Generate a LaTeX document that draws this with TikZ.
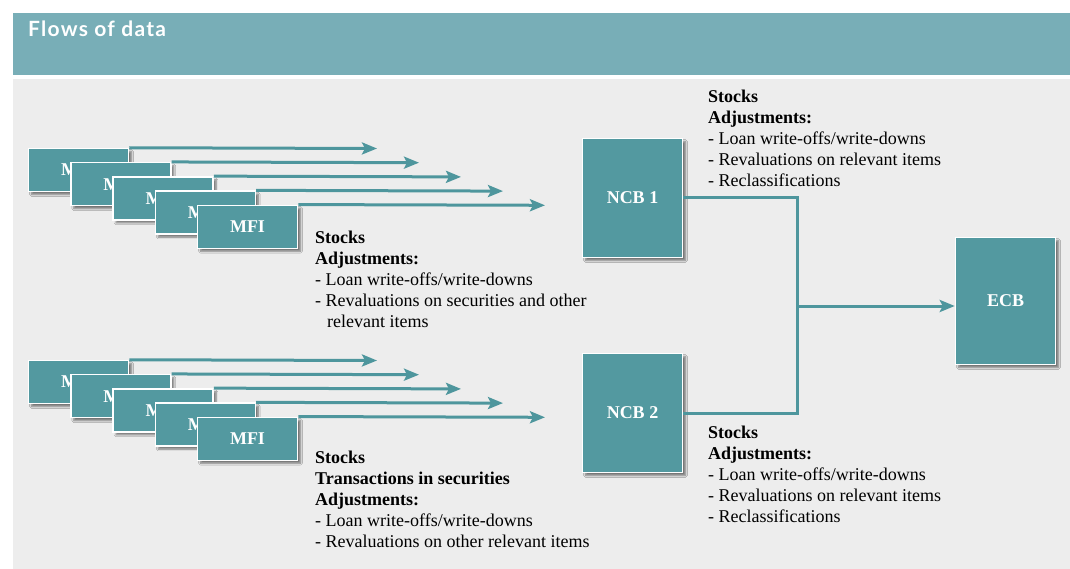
\documentclass[tikz,border=0pt]{standalone}
\usepackage{fontspec}
\setmainfont{Liberation Serif}
\newfontfamily\headfont[LetterSpace=6]{Lato}
\usepackage{xcolor}
\usetikzlibrary{arrows.meta,shadows.blur}
\definecolor{bandteal}{HTML}{78AEB7}
\definecolor{boxteal}{HTML}{5399A0}
\definecolor{lineteal}{HTML}{4E969D}
\definecolor{panelgrey}{HTML}{EDEDED}
\tikzstyle{flow} = [line width=3pt,draw=lineteal,-{Stealth[length=15pt,width=12pt,inset=3pt]}]
\tikzstyle{link} = [line width=3pt,draw=lineteal]

\begin{document}
\begin{tikzpicture}[x=1pt, y=-1pt,
    tealbox/.style={draw=white, line width=1.5pt, fill=boxteal, inner sep=0pt,
                    text=white, font=\bfseries\fontsize{18}{18}\selectfont,
                    blur shadow={shadow blur steps=6, shadow xshift=3pt, shadow yshift=-3pt, shadow opacity=50}},
    mfibox/.style={tealbox, minimum width=100pt, minimum height=43pt},
    bankbox/.style={tealbox, minimum width=100pt, minimum height=119pt},
    notes/.style={anchor=north west, inner sep=0pt, align=left, font=\fontsize{18}{21}\selectfont}]

    % page and header band
    \useasboundingbox (0,0) rectangle (1070,569);
    \fill[bandteal] (13,13) rectangle (1070,75);
    \fill[panelgrey] (13,79) rectangle (1070,569);
    \node[anchor=base west, inner sep=0pt, text=white, font=\headfont\bfseries\fontsize{21}{21}\selectfont] (title) at (28,37) {Flows of data};

    % stacks of MFIs
    \foreach \i in {0,...,4} {
        \node[mfibox] (mfiA\i) at ({78.5+42.25*\i},{170+14.2*\i}) {MFI};
    }
    \foreach \i in {0,...,4} {
        \node[mfibox] (mfiB\i) at ({78.5+42.25*\i},{382+14.2*\i}) {MFI};
    }

    % arrows from the MFIs
    \foreach \i in {0,...,4} {
        \coordinate (tipA\i) at ({377+42*\i},{148.5+14.2*\i});
        \coordinate (tipB\i) at ({377+42*\i},{360.5+14.2*\i});
        \draw[flow] (mfiA\i.north east) -- (tipA\i);
        \draw[flow] (mfiB\i.north east) -- (tipB\i);
    }

    % NCBs and ECB
    \node[bankbox] (ncb1) at (632.5,198) {NCB 1};
    \node[bankbox] (ncb2) at (632.5,413) {NCB 2};
    \node[tealbox, minimum width=100pt, minimum height=127pt] (ecb) at (1005.5,301) {ECB};

    % connectors
    \coordinate (joinA) at (797,198);
    \coordinate (joinB) at (797,413);
    \coordinate (joinM) at (797,306);
    \draw[link] (ncb1.east) -- (joinA) -- (joinB) -- (ncb2.east);
    \draw[flow] (joinM) -- (ecb.west |- joinM);

    % notes
    \node[notes] (noteA) at (315,230.5) {\textbf{Stocks}\\ \textbf{Adjustments:}\\ - Loan write-offs/write-downs\\
        - Revaluations on securities and other\\ \hspace*{12pt}relevant items};
    \node[notes] (noteB) at (315,450.5) {\textbf{Stocks}\\ \textbf{Transactions in securities}\\ \textbf{Adjustments:}\\
        - Loan write-offs/write-downs\\ - Revaluations on other relevant items};
    \node[notes] (noteC) at (708,89.5) {\textbf{Stocks}\\ \textbf{Adjustments:}\\ - Loan write-offs/write-downs\\
        - Revaluations on relevant items\\ - Reclassifications};
    \node[notes] (noteD) at (708,425.5) {\textbf{Stocks}\\ \textbf{Adjustments:}\\ - Loan write-offs/write-downs\\
        - Revaluations on relevant items\\ - Reclassifications};

\end{tikzpicture}
\end{document}
